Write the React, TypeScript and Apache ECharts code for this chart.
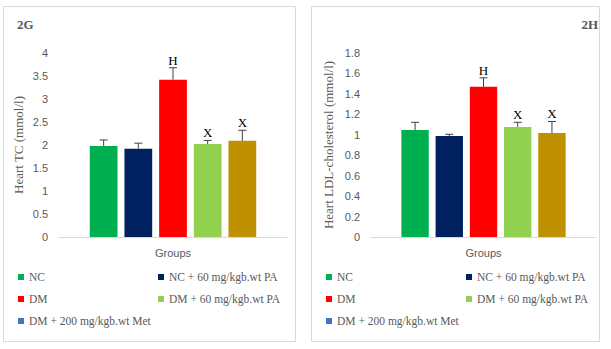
import React, { useEffect, useRef } from "react";
import * as echarts from "echarts";

const categories = ["Groups"];
const groupNames = [
  "NC",
  "NC + 60 mg/kgb.wt PA",
  "DM",
  "DM + 60 mg/kgb.wt PA",
  "DM + 200 mg/kgb.wt Met",
];
const groupColors = ["#00B050", "#002060", "#FF0000", "#92D050", "#BF9000"];
const legendColors = ["#00B050", "#002060", "#FF0000", "#92D050", "#4472C4"];

// Panel 2G: Heart TC (mmol/l)
const tcMeans = [1.98, 1.92, 3.42, 2.02, 2.09];
const tcErrors = [0.13, 0.12, 0.26, 0.08, 0.23];
const tcLetters = ["", "", "H", "X", "X"];

// Panel 2H: Heart LDL-cholesterol (mmol/l)
const ldlMeans = [1.047, 0.988, 1.469, 1.077, 1.018];
const ldlErrors = [0.075, 0.017, 0.088, 0.045, 0.112];
const ldlLetters = ["", "", "H", "X", "X"];

const tcTicks = { min: 0, max: 4, interval: 0.5 };
const ldlTicks = { min: 0, max: 1.8, interval: 0.2 };

const CAT_GAP = 0.27;
const BAR_GAP = 0.25;

const SANS = "Liberation Sans";
const SERIF = "Liberation Serif";
const GREY = "#595959";

function errorRenderer(letters: string[]) {
  return (params: any, api: any) => {
    const idx = api.value(3);
    const mean = api.value(1);
    const err = api.value(2);
    const base = api.coord([0, 0]);
    const band = api.size([1, 0])[0];
    const avail = band * (1 - CAT_GAP);
    const n = groupNames.length;
    const bw = avail / (n + (n - 1) * BAR_GAP);
    const cx = base[0] - avail / 2 + bw / 2 + idx * bw * (1 + BAR_GAP);
    const yTop = api.coord([0, mean])[1];
    const yTip = api.coord([0, mean + err])[1];
    const children: any[] = [
      {
        type: "line",
        shape: { x1: cx, y1: yTop, x2: cx, y2: yTip },
        style: { stroke: "#404040", lineWidth: 1 },
      },
      {
        type: "line",
        shape: { x1: cx - 4, y1: yTip, x2: cx + 4, y2: yTip },
        style: { stroke: "#404040", lineWidth: 1 },
      },
    ];
    const letter = letters[params.dataIndex];
    if (letter) {
      children.push({
        type: "text",
        style: {
          text: letter,
          x: cx,
          y: yTip - 1,
          align: "center",
          verticalAlign: "bottom",
          fontFamily: SERIF,
          fontSize: 13,
          fill: "#000",
        },
      });
    }
    return { type: "group", children };
  };
}

export default function App() {
  const ref = useRef<HTMLDivElement>(null);
  useEffect(() => {
    if (!ref.current) return;
    const chart = echarts.init(ref.current, undefined, { renderer: "svg" });

    const panels = [
      { means: tcMeans, errs: tcErrors, letters: tcLetters },
      { means: ldlMeans, errs: ldlErrors, letters: ldlLetters },
    ];

    const series: any[] = [];
    panels.forEach((p, pi) => {
      groupNames.forEach((name, i) => {
        series.push({
          type: "bar",
          name,
          xAxisIndex: pi,
          yAxisIndex: pi,
          data: [p.means[i]],
          itemStyle: { color: groupColors[i] },
          barCategoryGap: "27%",
          barGap: "25%",
        });
      });
      series.push({
        type: "custom",
        name: "err" + pi,
        xAxisIndex: pi,
        yAxisIndex: pi,
        renderItem: errorRenderer(p.letters),
        data: p.means.map((m, i) => [0, m, p.errs[i], i]),
        z: 5,
      });
    });

    const legendData = (idxs: number[]) =>
      idxs.map((i) => ({ name: groupNames[i], itemStyle: { color: legendColors[i] } }));
    const legendBase = {
      orient: "vertical",
      itemWidth: 6,
      itemHeight: 6,
      itemGap: 8,
      icon: "rect",
      selectedMode: false,
      textStyle: { fontFamily: SERIF, fontSize: 11.5, color: GREY, lineHeight: 14 },
      padding: 0,
      top: 270,
    };

    const yBase = {
      type: "value",
      nameLocation: "middle",
      nameTextStyle: { fontFamily: SERIF, fontSize: 13, color: GREY },
      axisLine: { show: false },
      axisTick: { show: false },
      splitLine: { show: false },
      axisLabel: { fontFamily: SANS, fontSize: 11, color: GREY, margin: 11 },
    };
    const xBase = {
      type: "category",
      data: categories,
      axisLine: { show: true, lineStyle: { color: "#D9D9D9" } },
      axisTick: { show: false },
      axisLabel: { fontFamily: SANS, fontSize: 11, color: GREY, margin: 10 },
    };

    chart.setOption({
      animation: false,
      backgroundColor: "#fff",
      grid: [
        { left: 59, right: 324, top: 53, height: 184 },
        { left: 371, right: 15, top: 53, height: 184 },
      ],
      xAxis: [
        { ...xBase, gridIndex: 0 },
        { ...xBase, gridIndex: 1 },
      ],
      yAxis: [
        {
          ...yBase,
          gridIndex: 0,
          ...tcTicks,
          name: "Heart TC (mmol/l)",
          nameGap: 34,
          axisLabel: { ...yBase.axisLabel, formatter: (v: number) => String(+v.toFixed(1)) },
        },
        {
          ...yBase,
          gridIndex: 1,
          ...ldlTicks,
          name: "Heart LDL-cholesterol (mmol/l)",
          nameGap: 36,
          axisLabel: { ...yBase.axisLabel, formatter: (v: number) => String(+v.toFixed(1)) },
        },
      ],
      legend: [
        { ...legendBase, left: 18, data: legendData([0, 2, 4]) },
        { ...legendBase, left: 158, data: legendData([1, 3]) },
        { ...legendBase, left: 326, data: legendData([0, 2, 4]) },
        { ...legendBase, left: 466, data: legendData([1, 3]) },
      ],
      graphic: [
        {
          type: "rect",
          shape: { x: 3.5, y: 6.5, width: 292, height: 335 },
          style: { fill: "none", stroke: "#D9D9D9", lineWidth: 1 },
          silent: true,
        },
        {
          type: "rect",
          shape: { x: 311.5, y: 6.5, width: 288, height: 335 },
          style: { fill: "none", stroke: "#D9D9D9", lineWidth: 1 },
          silent: true,
        },
        {
          type: "text",
          left: 17,
          top: 18,
          style: { text: "2G", fontFamily: SERIF, fontWeight: "bold", fontSize: 13, fill: GREY },
        },
        {
          type: "text",
          right: 13,
          top: 18,
          style: { text: "2H", fontFamily: SERIF, fontWeight: "bold", fontSize: 13, fill: GREY },
        },
      ],
      series,
    });
    return () => chart.dispose();
  }, []);

  return (
    <div
      ref={ref}
      style={{ position: "absolute", left: 0, top: 0, width: 611, height: 349 }}
    />
  );
}
